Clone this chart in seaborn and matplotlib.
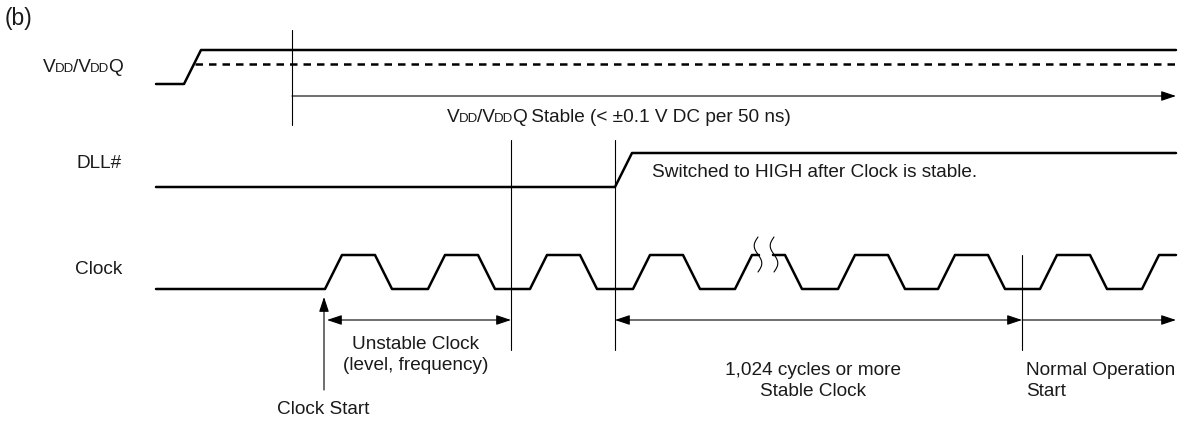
import numpy as np
import pandas as pd
import matplotlib
matplotlib.use("Agg")
import matplotlib.pyplot as plt
import seaborn as sns

# ---- waveform data (pixel-like time / level units) ----
X_START, X_END = 156, 1176

VDD_T = [156, 184, 201, 1176]
VDD_Y = [84, 84, 50, 50]
VDDQ_T = [195, 1176]
VDDQ_Y = [64, 64]

DLL_T = [156, 615, 632, 1176]
DLL_Y = [187, 187, 153, 153]

CLK_RISE = [325, 428, 530, 633, 735, 838, 938, 1040, 1142]
CLK_LOW, CLK_HIGH = 289, 255
CLK_BREAK = [759, 773]          # gap in the waveform (≈ marks)

# vertical reference lines: x, top, bottom
VLINES = [(292, 30, 125), (511, 140, 350), (615, 140, 350), (1022, 255, 350)]

# arrows: start, end, style
ARROWS = [
    ((292, 96), (1176, 96), "-|>"),
    ((327, 320), (511, 320), "<|-|>"),
    ((615, 320), (1022, 320), "<|-|>"),
    ((1022, 320), (1176, 320), "-|>"),
    ((324, 390), (324, 297), "-|>"),
]

FS = 13.7
sns.set_style("white")
plt.rcParams["font.family"] = ["Liberation Sans", "DejaVu Sans"]

fig = plt.figure(figsize=(11.89, 4.25), dpi=100)
ax = fig.add_axes([0, 0, 1, 1])
ax.set_xlim(0, 1189)
ax.set_ylim(425, 0)
ax.axis("off")

SIG = dict(color="black", linewidth=1.8, sort=False, estimator=None, legend=False)


def wave(xs, ys, **kw):
    df = pd.DataFrame({"t": xs, "v": ys})
    opts = dict(SIG)
    opts.update(kw)
    sns.lineplot(data=df, x="t", y="v", ax=ax, **opts)


# VDD / VDDQ
wave(VDD_T, VDD_Y)
wave(VDDQ_T, VDDQ_Y, linestyle=(0, (3.0, 2.4)))

# DLL#
wave(DLL_T, DLL_Y)

# Clock: build trapezoid wave from rising edges
EDGE, TOP = 17, 33
pts = [(X_START, CLK_LOW)]
for r in CLK_RISE:
    for px, py in [(r, CLK_LOW), (r + EDGE, CLK_HIGH),
                   (r + EDGE + TOP, CLK_HIGH), (r + 2 * EDGE + TOP, CLK_LOW)]:
        if px <= X_END:
            pts.append((px, py))
if pts[-1][0] < X_END:
    pts.append((X_END, pts[-1][1]))
cx = np.array([p[0] for p in pts], float)
cy = np.array([p[1] for p in pts], float)
b0, b1 = CLK_BREAK
m = cx < b0
wave(list(cx[m]) + [b0], list(cy[m]) + [np.interp(b0, cx, cy)])
m = cx > b1
wave([b1] + list(cx[m]), [np.interp(b1, cx, cy)] + list(cy[m]))

# break marks
sy = np.linspace(237, 272, 60)
for xc in [b0 - 1, b1 + 1]:
    ax.plot(xc - 3.8 * np.sin(2 * np.pi * (sy - 237) / 35), sy,
            color="black", lw=0.8)

# thin vertical lines
for x, y0, y1 in VLINES:
    ax.plot([x, x], [y0, y1], color="black", lw=0.8)

# arrows
for s, e, st in ARROWS:
    ax.annotate("", xy=e, xytext=s,
                arrowprops=dict(arrowstyle=st + ",head_length=0.9,head_width=0.3",
                                color="black", lw=0.8, shrinkA=0, shrinkB=0,
                                mutation_scale=10))

renderer = fig.canvas.get_renderer()


def rich(x, y, parts, ha="left"):
    # text runs with small-caps style subscripts, placed side by side
    items = []
    for s, small in parts:
        t = ax.text(0, y, s, fontsize=FS * 0.7 if small else FS,
                    va="baseline", ha="left", color="#1a1a1a")
        items.append(t)
    widths = [t.get_window_extent(renderer).width - 1.0 for t in items]
    total = sum(widths)
    x0 = {"left": x, "center": x - total / 2, "right": x - total}[ha]
    for t, w in zip(items, widths):
        t.set_x(x0)
        x0 += w


VDD_PARTS = [("V", 0), ("DD", 1), ("/V", 0), ("DD", 1), ("Q", 0)]
rich(122, 72, VDD_PARTS, ha="right")
rich(618, 122, VDD_PARTS + [(" Stable (< \u00b10.1 V DC per 50 ns)", 0)], ha="center")

txt = dict(fontsize=FS, color="#1a1a1a")
ax.text(5, 18, "(b)", ha="left", va="center", fontsize=16.5, color="#1a1a1a")
ax.text(122, 164, "DLL#", ha="right", va="center", **txt)
ax.text(122, 270, "Clock", ha="right", va="center", **txt)
ax.text(652, 172, "Switched to HIGH after Clock is stable.", ha="left", va="center", **txt)
ax.text(416, 355, "Unstable Clock\n(level, frequency)", ha="center", va="center",
        linespacing=1.25, **txt)
ax.text(813, 381, "1,024 cycles or more\nStable Clock", ha="center", va="center",
        linespacing=1.25, **txt)
ax.text(1026, 381, "Normal Operation\nStart", ha="left", va="center",
        linespacing=1.25, **txt)
ax.text(323, 409, "Clock Start", ha="center", va="center", **txt)

fig.savefig("out.png", dpi=100)
